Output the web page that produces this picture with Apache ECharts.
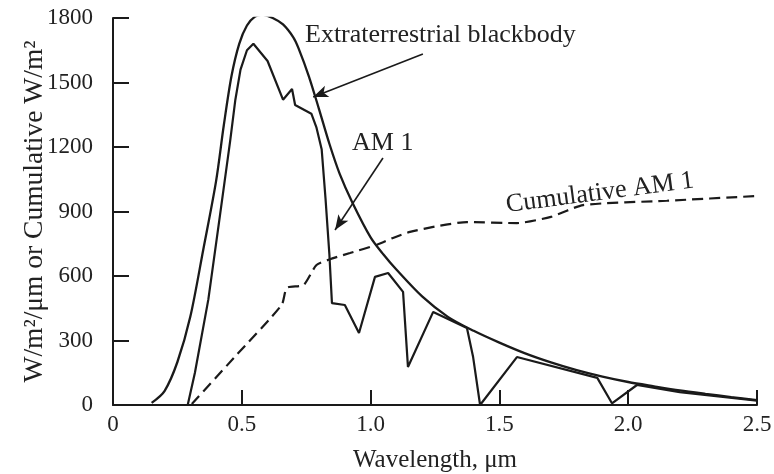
<!DOCTYPE html>
<html>
<head>
<meta charset="utf-8">
<script src="https://cdn.jsdelivr.net/npm/echarts@6/dist/echarts.min.js"></script>
<style>html,body{margin:0;padding:0;background:#fff}#c{width:774px;height:474px}</style>
</head>
<body>
<div id="c"></div>
<script>
// Extraterrestrial blackbody curve (W/m²/µm)
const bbX = [0.15,0.20,0.25,0.30,0.35,0.40,0.43,0.46,0.49,0.52,0.55,0.58,0.62,0.66,0.70,0.72,0.76,0.80,0.84,0.88,0.93,1.00,1.05,1.10,1.20,1.30,1.40,1.50,1.60,1.70,1.80,1.90,2.00,2.10,2.20,2.30,2.40,2.50];
const bbY = [10,65,200,410,720,1040,1300,1530,1680,1765,1805,1815,1800,1770,1710,1660,1530,1375,1215,1075,940,780,700,630,505,410,345,290,240,198,162,132,107,87,68,52,37,23];
// AM 1 spectrum
const amX = [0.29,0.318,0.37,0.415,0.455,0.475,0.495,0.52,0.545,0.60,0.66,0.695,0.707,0.77,0.79,0.81,0.825,0.84,0.85,0.90,0.955,1.017,1.068,1.126,1.145,1.243,1.374,1.398,1.425,1.568,1.88,1.937,2.034,2.20,2.35,2.50];
const amY = [0,150,490,880,1230,1420,1560,1650,1680,1600,1420,1470,1395,1355,1290,1190,960,700,474,465,335,596,614,526,177,433,358,223,0,223,126,8,93,60,40,20];
// Cumulative AM 1 (W/m²)
const cumX = [0.306,0.47,0.655,0.675,0.74,0.79,0.855,0.92,1.024,1.087,1.153,1.26,1.374,1.568,1.70,1.825,2.15,2.50];
const cumY = [5,220,466,545,558,651,683,707,745,777,805,832,851,846,875,930,950,972];
// Axis ticks
const xTicks = ['0','0.5','1.0','1.5','2.0','2.5'];
const yTicks = [0,300,600,900,1200,1500,1800];
// Annotation arrows (data coordinates)
const bbArrow = [[1.203,1633],[0.777,1433]];
const amArrow = [[1.048,1149],[0.862,814]];

const zip = (a,b) => a.map((v,i)=>[v,b[i]]);
const FONT = 'Liberation Serif';
const TXT = '#222';
const LINE = '#1a1a1a';

const chart = echarts.init(document.getElementById('c'), null, {renderer:'canvas'});
chart.setOption({
  animation:false,
  backgroundColor:'#fff',
  grid:{left:113,right:17,top:18,bottom:69,containLabel:false,outerBoundsMode:'none'},
  xAxis:{
    type:'value',min:0,max:2.5,interval:0.5,
    name:'Wavelength, μm',nameLocation:'middle',nameGap:43,nameMoveOverlap:false,
    nameTextStyle:{fontFamily:FONT,fontSize:25,color:TXT},
    axisLine:{lineStyle:{color:LINE,width:2}},
    axisTick:{inside:true,length:15,lineStyle:{color:LINE,width:2}},
    axisLabel:{fontFamily:FONT,fontSize:23,color:TXT,margin:8,
      formatter:(v)=>xTicks[Math.round(v/0.5)]},
    splitLine:{show:false}
  },
  yAxis:{
    type:'value',min:yTicks[0],max:yTicks[yTicks.length-1],interval:300,
    name:'W/m²/μm or Cumulative W/m²',nameLocation:'middle',nameGap:64,nameMoveOverlap:false,
    nameTextStyle:{fontFamily:FONT,fontSize:27.5,color:TXT},
    axisLine:{show:true,lineStyle:{color:LINE,width:2}},
    axisTick:{show:true,inside:true,length:16,lineStyle:{color:LINE,width:2}},
    axisLabel:{fontFamily:FONT,fontSize:23,color:TXT,margin:20,
      formatter:(v)=>String(v)},
    splitLine:{show:false}
  },
  series:[
    {type:'line',data:zip(bbX,bbY),smooth:0.3,symbol:'none',
      lineStyle:{color:LINE,width:2.3},
      markLine:{silent:true,symbol:['none','arrow'],symbolSize:[9,15],
        lineStyle:{color:LINE,width:1.6,type:'solid'},label:{show:false},
        data:[[{coord:bbArrow[0]},{coord:bbArrow[1]}]]}},
    {type:'line',data:zip(amX,amY),symbol:'none',
      lineStyle:{color:LINE,width:2.2},
      markLine:{silent:true,symbol:['none','arrow'],symbolSize:[9,15],
        lineStyle:{color:LINE,width:1.6,type:'solid'},label:{show:false},
        data:[[{coord:amArrow[0]},{coord:amArrow[1]}]]}},
    {type:'line',data:zip(cumX,cumY),smooth:0.2,symbol:'none',
      lineStyle:{color:LINE,width:2.2,type:[11,6]}}
  ],
  graphic:[
    {type:'text',left:305,top:22,style:{text:'Extraterrestrial blackbody',font:'26px "Liberation Serif"',fill:TXT}},
    {type:'text',left:352,top:130,style:{text:'AM 1',font:'26px "Liberation Serif"',fill:TXT}},
    {type:'text',x:600,y:193,rotation:7.5*Math.PI/180,
      style:{text:'Cumulative AM 1',font:'26px "Liberation Serif"',fill:TXT,align:'center',verticalAlign:'middle'}}
  ]
});
</script>
</body>
</html>
